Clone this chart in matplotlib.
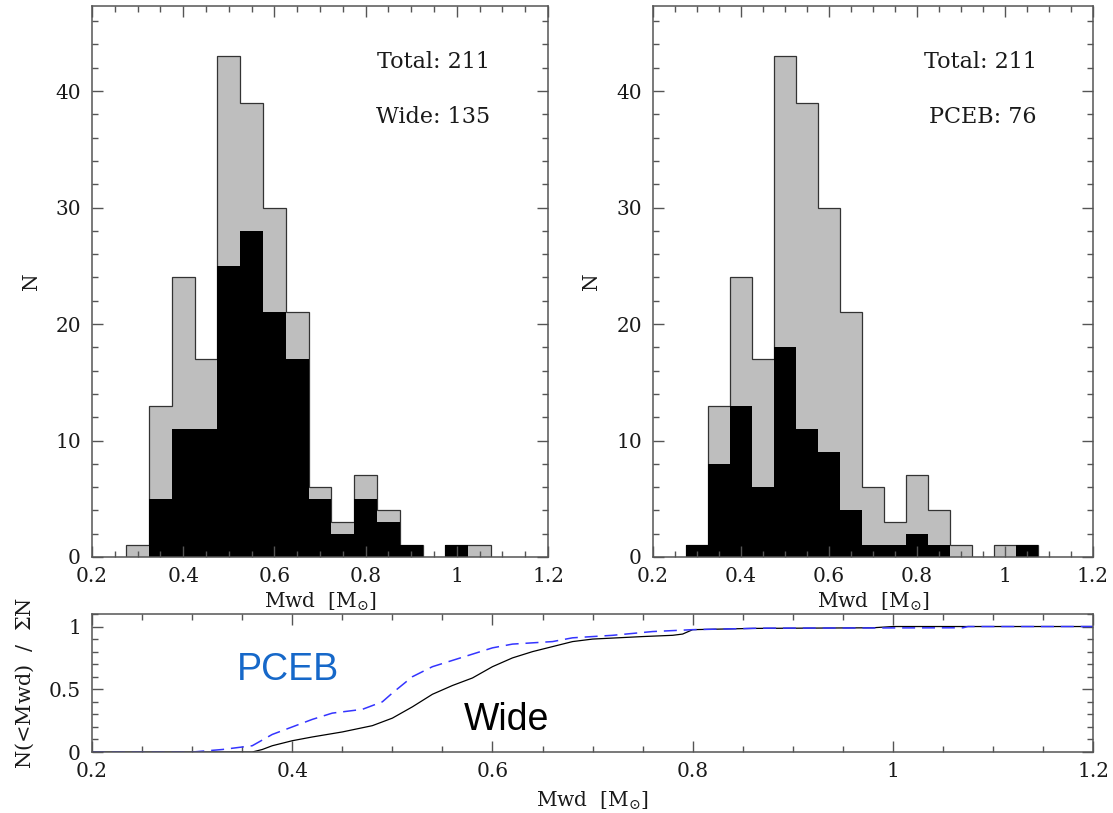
import numpy as np
import matplotlib
matplotlib.use('Agg')
import matplotlib.pyplot as plt
from matplotlib.ticker import MultipleLocator

plt.rcParams['font.family'] = 'DejaVu Serif'
plt.rcParams['mathtext.fontset'] = 'dejavuserif'

# histogram bins (Mwd, solar masses)
mass_edges = [0.275, 0.325, 0.375, 0.425, 0.475, 0.525, 0.575, 0.625, 0.675,
              0.725, 0.775, 0.825, 0.875, 0.925, 0.975, 1.025, 1.075]
total_counts = [1, 13, 24, 17, 43, 39, 30, 21, 6, 3, 7, 4, 1, 0, 1, 1]
wide_counts = [0, 5, 11, 11, 25, 28, 21, 17, 5, 2, 5, 3, 1, 0, 1, 0]
pceb_counts = [1, 8, 13, 6, 18, 11, 9, 4, 1, 1, 2, 1, 0, 0, 0, 1]

# cumulative fractions
wide_cum_m = [0.20, 0.36, 0.37, 0.38, 0.40, 0.42, 0.45, 0.48, 0.50, 0.52, 0.54,
              0.56, 0.58, 0.60, 0.62, 0.64, 0.66, 0.68, 0.70, 0.75, 0.78, 0.79,
              0.80, 0.86, 0.98, 1.00, 1.20]
wide_cum_f = [0.0, 0.0, 0.02, 0.05, 0.09, 0.12, 0.16, 0.21, 0.27, 0.36, 0.46,
              0.53, 0.59, 0.68, 0.75, 0.80, 0.84, 0.88, 0.90, 0.92, 0.93, 0.94,
              0.975, 0.985, 0.99, 1.0, 1.0]
pceb_cum_m = [0.20, 0.30, 0.33, 0.36, 0.38, 0.40, 0.42, 0.44, 0.47, 0.49, 0.50,
              0.52, 0.54, 0.56, 0.58, 0.60, 0.62, 0.66, 0.68, 0.72, 0.76, 0.80,
              0.87, 1.07, 1.075, 1.20]
pceb_cum_f = [0.0, 0.0, 0.02, 0.05, 0.14, 0.20, 0.26, 0.31, 0.34, 0.40, 0.47,
              0.60, 0.68, 0.73, 0.78, 0.83, 0.86, 0.88, 0.91, 0.93, 0.96, 0.975,
              0.987, 0.99, 1.0, 1.0]

spine_col = '#555555'
edge_col = '#333333'
gray = '#bebebe'


def style_axes(ax, xminor, ymajor, yminor, major_len, minor_len):
    ax.xaxis.set_major_locator(MultipleLocator(0.2))
    ax.xaxis.set_minor_locator(MultipleLocator(xminor))
    ax.yaxis.set_major_locator(MultipleLocator(ymajor))
    ax.yaxis.set_minor_locator(MultipleLocator(yminor))
    ax.tick_params(which='both', direction='in', top=True, right=True,
                   color=spine_col, width=1.0, labelsize=14.5, labelcolor='#1a1a1a')
    ax.tick_params(which='major', length=major_len)
    ax.tick_params(which='minor', length=minor_len)
    ax.tick_params(axis='x', pad=7)
    ax.tick_params(axis='y', pad=8)
    for s in ax.spines.values():
        s.set_color(spine_col)
        s.set_linewidth(1.1)
    ax.xaxis.set_major_formatter(plt.FuncFormatter(lambda v, p: ('%g' % round(v, 2))))
    ax.yaxis.set_major_formatter(plt.FuncFormatter(lambda v, p: ('%g' % round(v, 2))))


def hist_panel(ax, sub_counts, label, n_sub, ylab_x):
    ax.stairs(total_counts, mass_edges, fill=True, color=gray, baseline=0)
    ax.stairs(total_counts, mass_edges, color=edge_col, linewidth=0.9, baseline=0)
    ax.stairs(sub_counts, mass_edges, fill=True, color='black', baseline=0)
    ax.set_xlim(0.2, 1.2)
    ax.set_ylim(0, 47.3)
    style_axes(ax, 0.05, 10, 2, 8, 4)
    ax.text(0.872, 0.887, 'Total: %d' % sum(total_counts), transform=ax.transAxes,
            ha='right', va='baseline', fontsize=16, color='#1a1a1a')
    ax.text(0.872, 0.787, '%s: %d' % (label, n_sub), transform=ax.transAxes,
            ha='right', va='baseline', fontsize=16, color='#1a1a1a')
    ax.set_xlabel(r'Mwd  [M$_{\odot}$]', fontsize=14.5, color='#1a1a1a')
    ax.xaxis.set_label_coords(0.5, -0.062)
    ax.set_ylabel('N', fontsize=14.5, color='#1a1a1a')
    ax.yaxis.set_label_coords(ylab_x, 0.5)


fig = plt.figure(figsize=(11.13, 8.13), dpi=100)

ax1 = fig.add_axes([0.0827, 0.3149, 0.4097, 0.6777])
hist_panel(ax1, wide_counts, 'Wide', sum(wide_counts), -0.112)

ax2 = fig.add_axes([0.5867, 0.3149, 0.3953, 0.6777])
hist_panel(ax2, pceb_counts, 'PCEB', sum(pceb_counts), -0.118)

ax3 = fig.add_axes([0.0827, 0.0750, 0.8994, 0.1698])
ax3.plot(wide_cum_m, wide_cum_f, color='black', linewidth=0.9)
ax3.plot(pceb_cum_m, pceb_cum_f, color='#3434ff', linewidth=1.1, dashes=(8.5, 4.5))
ax3.set_xlim(0.2, 1.2)
ax3.set_ylim(0, 1.1)
style_axes(ax3, 0.05, 0.5, 0.1, 8, 4)
ax3.text(0.345, 0.576, 'PCEB', fontsize=27, color='#1668c9', family='Liberation Sans')
ax3.text(0.571, 0.176, 'Wide', fontsize=27, color='black', family='Liberation Sans')
ax3.set_xlabel(r'Mwd  [M$_{\odot}$]', fontsize=14.5, color='#1a1a1a')
ax3.xaxis.set_label_coords(0.5, -0.27)
ax3.set_ylabel(r'N(<Mwd)  /  $\Sigma$N', fontsize=15, color='#1a1a1a')
ax3.yaxis.set_label_coords(-0.056, 0.5)

fig.savefig('out.png', dpi=100)
